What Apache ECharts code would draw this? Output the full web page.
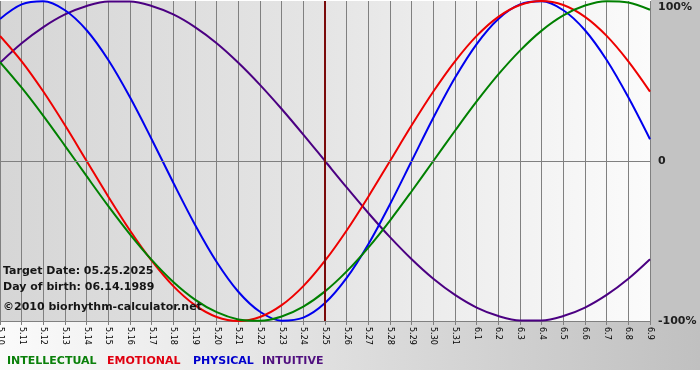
<!DOCTYPE html>
<html>
<head>
<meta charset="utf-8">
<script src="https://cdn.jsdelivr.net/npm/echarts@6/dist/echarts.min.js"></script>
<style>
html,body{margin:0;padding:0;background:#ffffff;}
#chart{width:700px;height:380px;}
</style>
</head>
<body>
<div id="chart"></div>
<script>
const categories = ['5.10','5.11','5.12','5.13','5.14','5.15','5.16','5.17','5.18','5.19','5.20',
  '5.21','5.22','5.23','5.24','5.25','5.26','5.27','5.28','5.29','5.30','5.31',
  '6.1','6.2','6.3','6.4','6.5','6.6','6.7','6.8','6.9'];

const intellectual = [61.8,45.8,28.2,9.5,-9.5,-28.2,-45.8,-61.8,-75.6,-86.6,-94.5,-99.0,-99.9,-97.2,-91.0,-81.5,
  -69.0,-54.1,-37.2,-18.9,0,18.9,37.2,54.1,69.0,81.5,91.0,97.2,99.9,99.0,94.5];
const emotional = [78.2,62.3,43.4,22.3,0,-22.3,-43.4,-62.3,-78.2,-90.1,-97.5,-100,-97.5,-90.1,-78.2,-62.3,
  -43.4,-22.3,0,22.3,43.4,62.3,78.2,90.1,97.5,100,97.5,90.1,78.2,62.3,43.4];
const physical = [88.8,97.9,99.8,94.2,81.7,63.1,39.8,13.6,-13.6,-39.8,-63.1,-81.7,-94.2,-99.8,-97.9,-88.8,
  -73.1,-52.0,-27.0,0,27.0,52.0,73.1,88.8,97.9,99.8,94.2,81.7,63.1,39.8,13.6];
const intuitive = [61.4,73.6,83.7,91.6,96.9,99.7,99.7,96.9,91.6,83.7,73.6,61.4,47.6,32.5,16.5,0,
  -16.5,-32.5,-47.6,-61.4,-73.6,-83.7,-91.6,-96.9,-99.7,-99.7,-96.9,-91.6,-83.7,-73.6,-61.4];

const yTicks = {'100':'100%','0':'0','-100':'-100%'};
const targetDay = '5.25';
const infoLines = ['Target Date: 05.25.2025','Day of birth: 06.14.1989','\u00A92010 biorhythm-calculator.net'];
const legendNames = ['INTELLECTUAL','EMOTIONAL','PHYSICAL','INTUITIVE'];

const colors = {INTELLECTUAL:'#008000', EMOTIONAL:'#ee0000', PHYSICAL:'#0000ee', INTUITIVE:'#4b0082'};
const legendColors = {INTELLECTUAL:'#0a800a', EMOTIONAL:'#e00010', PHYSICAL:'#0000cc', INTUITIVE:'#50107f'};

const chart = echarts.init(document.getElementById('chart'), null, {renderer:'canvas'});
const font = 'DejaVu Sans';

function lineSeries(name, data, extra) {
  return Object.assign({
    name: name, type: 'line', data: data, smooth: 0.33, symbol: 'none',
    lineStyle: {width: 2, color: colors[name]}, itemStyle: {color: colors[name]},
    animation: false, z: 3
  }, extra || {});
}

const legendX = [7, 107, 193, 262];
const infoY = [271, 287, 307];

const graphics = [
  {type:'rect', z:-10, silent:true, shape:{x:651,y:0,width:49,height:322}, style:{fill:'#c3c3c3'}},
  {type:'rect', z:-10, silent:true, shape:{x:0,y:322,width:700,height:48},
    style:{fill: new echarts.graphic.LinearGradient(0,0,1,0,[{offset:0,color:'#fbfbfb'},{offset:1,color:'#c0c0c0'}])}}
];
infoLines.forEach((t,i)=>graphics.push({type:'text', z:10, silent:true, x:3, y:infoY[i],
  style:{text:t, font:'bold 11px "'+font+'"', fill:'#151515', verticalAlign:'middle', align:'left'}}));
legendNames.forEach((t,i)=>graphics.push({type:'text', z:10, silent:true, x:legendX[i], y:361,
  style:{text:t, font:'bold 11px "'+font+'"', fill:legendColors[t], verticalAlign:'middle', align:'left'}}));

const option = {
  backgroundColor: '#ffffff',
  animation: false,
  grid: {
    left: 0, right: 50, top: 1, bottom: 59, containLabel: false, outerBoundsMode: 'none',
    show: true, borderWidth: 0,
    backgroundColor: new echarts.graphic.LinearGradient(0,0,1,0,[
      {offset:0,color:'#d6d6d6'},{offset:0.5,color:'#e5e5e5'},{offset:1,color:'#fbfbfb'}])
  },
  xAxis: {
    type: 'category', data: categories, boundaryGap: false,
    axisLine: {show: true, onZero: false, lineStyle: {color:'#808080', width:1}},
    axisTick: {show: true, length: 4, interval: 0, lineStyle: {color:'#808080'}},
    axisLabel: {interval: 0, rotate: -90, margin: 6, fontSize: 8, fontFamily: font, color: '#000000'},
    splitLine: {show: true, interval: 0, lineStyle: {color:'#808080', width:1}}
  },
  yAxis: {
    type: 'value', position: 'right', min: -100, max: 100, interval: 100,
    axisLine: {show: false}, axisTick: {show: false},
    splitLine: {show: false},
    axisLabel: {
      margin: 8, fontSize: 11, fontWeight: 'bold', fontFamily: font, color: '#202020',
      formatter: function(v){ const s = yTicks[String(v)]; return v === 100 ? '{t|'+s+'}' : s; },
      rich: {t: {padding:[13,0,0,0], fontSize:11, fontWeight:'bold', fontFamily:font, color:'#202020'}}
    }
  },
  series: [
    lineSeries('INTUITIVE', intuitive, {
      markLine: {silent:true, symbol:'none', animation:false, label:{show:false},
        data: [
          {yAxis: 0, lineStyle:{color:'#808080', width:1, type:'solid'}},
          {xAxis: targetDay, lineStyle:{color:'#7a0a0a', width:2, type:'solid'}}
        ]}
    }),
    lineSeries('PHYSICAL', physical),
    lineSeries('EMOTIONAL', emotional),
    lineSeries('INTELLECTUAL', intellectual)
  ],
  graphic: graphics
};
chart.setOption(option);
</script>
</body>
</html>
